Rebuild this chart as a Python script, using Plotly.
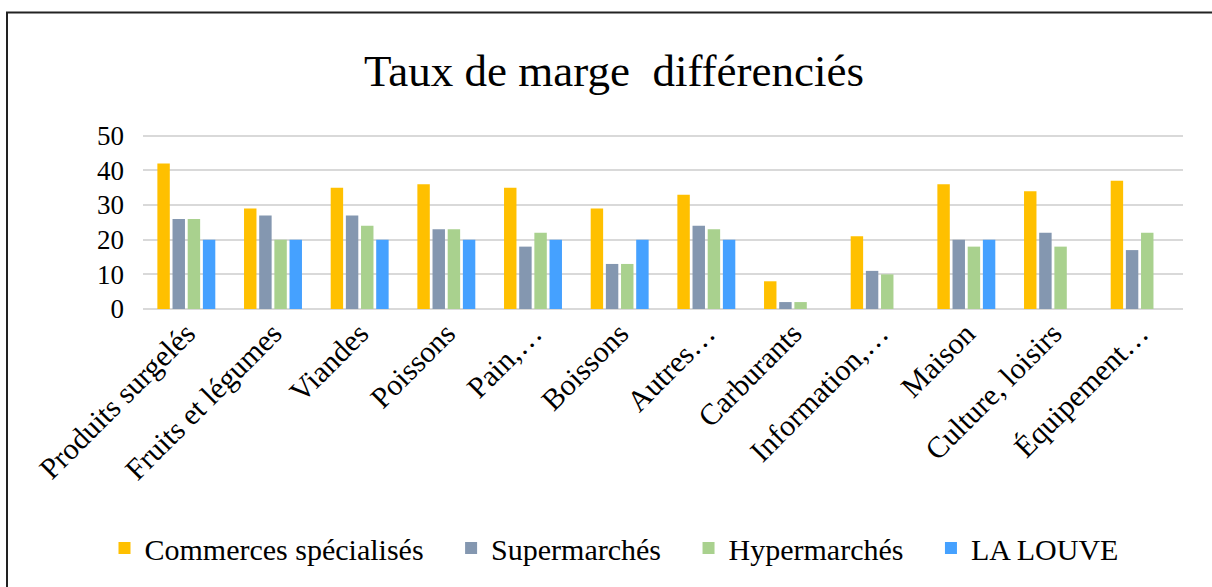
import plotly.graph_objects as go

categories = ["Produits surgelés", "Fruits et légumes", "Viandes", "Poissons", "Pain,…",
              "Boissons", "Autres…", "Carburants", "Information,…", "Maison",
              "Culture, loisirs", "Équipement…"]
commerces = [42, 29, 35, 36, 35, 29, 33, 8, 21, 36, 34, 37]
supermarches = [26, 27, 27, 23, 18, 13, 24, 2, 11, 20, 22, 17]
hypermarches = [26, 20, 24, 23, 22, 13, 23, 2, 10, 18, 18, 22]
la_louve = [20, 20, 20, 20, 20, 20, 20, None, None, 20, None, None]

series = [
    ("Commerces spécialisés", commerces, "#FFC000"),
    ("Supermarchés", supermarches, "#8497B0"),
    ("Hypermarchés", hypermarches, "#A9D18E"),
    ("LA LOUVE", la_louve, "#45A1FF"),
]

PAD = "\u00a0" * 3
fig = go.Figure()
for i, (name, vals, col) in enumerate(series):
    label = name + (PAD if i < len(series) - 1 else "")
    fig.add_trace(go.Bar(name=label, x=categories, y=vals, marker_color=col,
                         marker_line_width=0))

W, H = 1212, 587
L, R, T, B = 143, 1212 - 1183, 134, 587 - 309
pw, ph = W - L - R, H - T - B

def px_x(p):
    return (p - L) / pw

def px_y(p):
    return (H - B - p) / ph

fig.update_layout(
    width=W, height=H,
    margin=dict(l=L, r=R, t=T, b=B, autoexpand=False),
    paper_bgcolor="white", plot_bgcolor="white",
    font=dict(family="Liberation Serif", color="#000000"),
    title=dict(text="Taux de marge  différenciés", x=px_x(614), xanchor="center", xref="paper",
               y=1 - 70 / H, yanchor="middle",
               font=dict(size=45, family="Liberation Serif", color="#000000")),
    barmode="group", bargap=0.3, bargroupgap=0.18,
    showlegend=True,
    legend=dict(orientation="h", x=px_x(614), xanchor="center", y=px_y(548), yanchor="middle",
                font=dict(size=30, family="Liberation Serif"), itemwidth=30,
                traceorder="normal"),
    xaxis=dict(tickangle=-45, tickfont=dict(size=30, family="Liberation Serif"),
               showgrid=False, showline=False, ticks=""),
    yaxis=dict(range=[0, 50.5], tickvals=[0, 10, 20, 30, 40, 50],
               tickfont=dict(size=27, family="Liberation Serif"),
               showgrid=True, gridcolor="#D9D9D9", gridwidth=2,
               zeroline=True, zerolinecolor="#D9D9D9", zerolinewidth=2,
               showline=False, ticks="", ticklabelstandoff=18),
    shapes=[dict(type="rect", xref="paper", yref="paper",
                 x0=px_x(7), x1=px_x(1240), y0=px_y(620), y1=px_y(12.5),
                 line=dict(color="#222222", width=2), fillcolor="rgba(0,0,0,0)",
                 layer="below")],
)

fig.write_html("out.html", config={"displayModeBar": False},
               post_script="document.body.style.margin='0';document.body.style.overflow='hidden';")
